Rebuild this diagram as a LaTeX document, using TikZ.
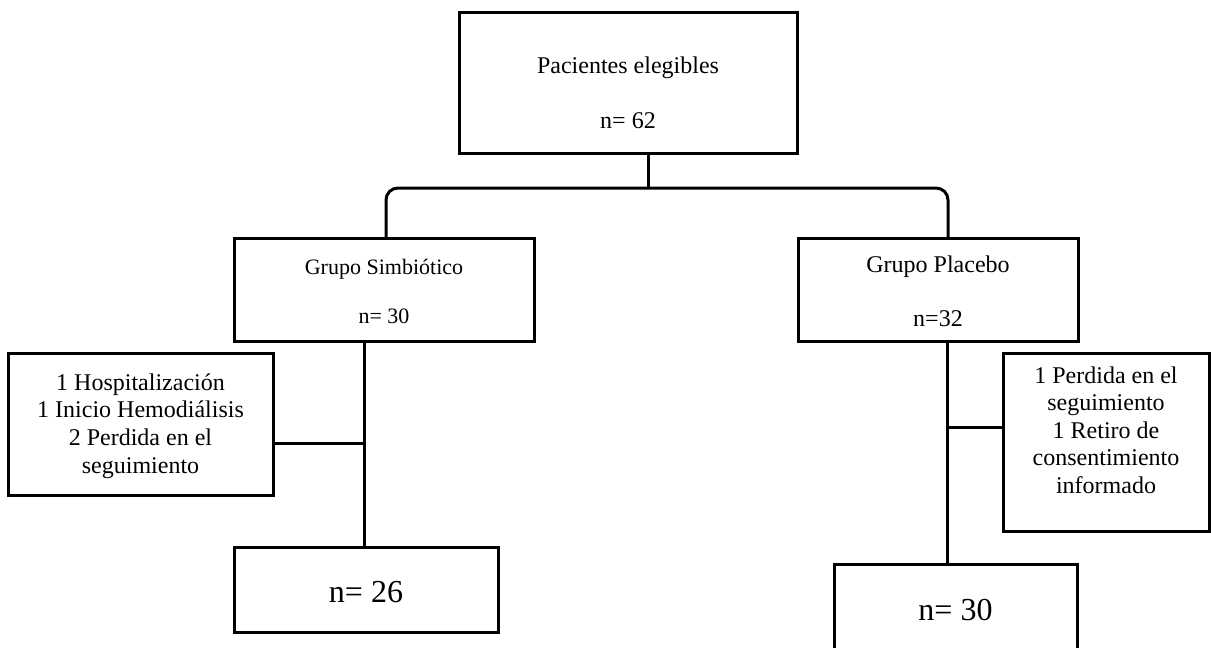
\documentclass[tikz,border=0pt]{standalone}
\usepackage{fontspec}
\setmainfont{Liberation Serif}
\usetikzlibrary{fit}
\begin{document}
\begin{tikzpicture}[x=0.5pt,y=-0.5pt,
  box/.style={draw, line width=1.5pt, inner sep=0pt, fit={#1}},
  conn/.style={draw, line width=1.5pt},
  txt/.style={font=\fontsize{12}{13.8}\selectfont, align=center, inner sep=0pt},
  txts/.style={font=\fontsize{11}{12.6}\selectfont, align=center, inner sep=0pt},
  txtb/.style={font=\fontsize{16}{19}\selectfont, align=center, inner sep=0pt}]
\clip (0,0) rectangle (1211,648);
% boxes
\node[box={(459,12) (797,153)}] (top) {};
\node[box={(234,238) (534,341)}] (g1) {};
\node[box={(798,238) (1078,341)}] (g2) {};
\node[box={(8,353) (273,495)}] (s1) {};
\node[box={(1003,353) (1209,531)}] (s2) {};
\node[box={(234,547) (498,632)}] (b1) {};
\node[box={(834,564) (1077,660)}] (b2) {};
% texts
\node[txt, anchor=base] (toptA) at (628,73) {Pacientes elegibles};
\node[txt, anchor=base] (toptB) at (628,128) {n= 62};
\node[txts, anchor=base] (g1tA) at (384,274) {Grupo Simbiótico};
\node[txts, anchor=base] (g1tB) at (384,323) {n= 30};
\node[txt, anchor=base] (g2tA) at (938,272) {Grupo Placebo};
\node[txt, anchor=base] (g2tB) at (938,326) {n=32};
\node[txt] (s1t) at (140.5,426) {1 Hospitalización\\1 Inicio Hemodiálisis\\2 Perdida en el\\seguimiento};
\node[txt] (s2t) at (1106,430) {1 Perdida en el\\seguimiento\\1 Retiro de\\consentimiento\\informado};
\node[txtb] (b1t) at (366,592) {n= 26};
\node[txtb] (b2t) at (955.5,610) {n= 30};
% connector points
\coordinate (tj) at (648,153);
\coordinate (mid) at (648,188);
\coordinate (bl) at (386,238);
\coordinate (br) at (948,238);
\coordinate (l1) at (364,341);
\coordinate (l2) at (364,547);
\coordinate (lj) at (364,443);
\coordinate (r1) at (947,341);
\coordinate (r2) at (947,564);
\coordinate (rj) at (947,427);
% connectors
\path[conn] (tj) -- (mid);
\path[conn, rounded corners=6] (bl) -- (bl |- mid) -- (br |- mid) -- (br);
\path[conn] (l1) -- (l2);
\path[conn] (s1.east |- lj) -- (lj);
\path[conn] (r1) -- (r2);
\path[conn] (s2.west |- rj) -- (rj);
\end{tikzpicture}
\end{document}
